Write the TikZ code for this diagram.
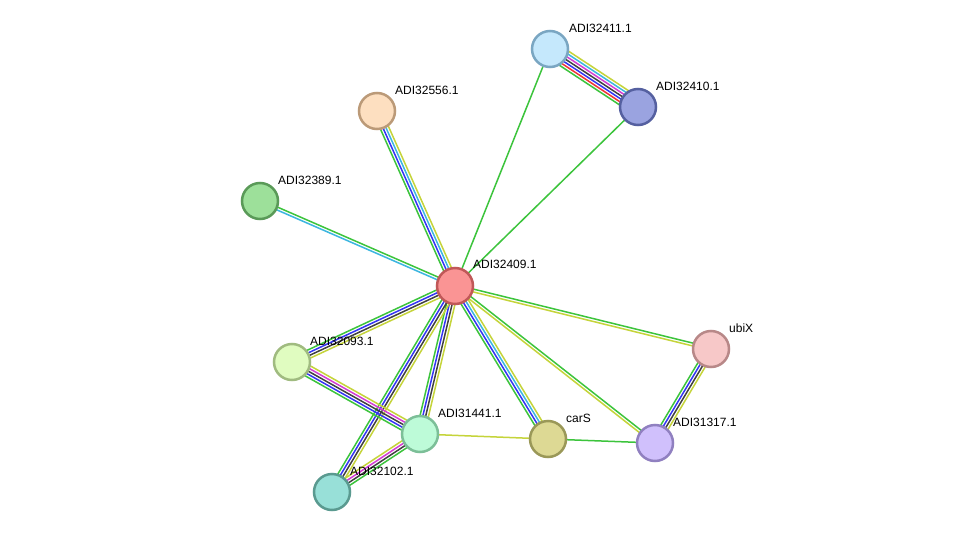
\documentclass[tikz,border=0pt]{standalone}
\usepackage{fontspec}
\setmainfont{Liberation Sans}
\usetikzlibrary{calc}
\pgfdeclarelayer{bg}
\pgfsetlayers{bg,main}
\definecolor{cgreen}{HTML}{3CC43C}
\definecolor{cyel}{HTML}{C5D43A}
\definecolor{ccyan}{HTML}{3CB6E0}
\definecolor{cblue}{HTML}{3434F4}
\definecolor{cblack}{HTML}{404040}
\definecolor{cmag}{HTML}{D43CD4}
\definecolor{cred}{HTML}{F03434}
\definecolor{f11}{RGB}{197,232,252}\definecolor{d11}{RGB}{122,166,194}
\definecolor{f10}{RGB}{154,163,224}\definecolor{d10}{RGB}{85,96,160}
\definecolor{f56}{RGB}{253,223,192}\definecolor{d56}{RGB}{187,154,120}
\definecolor{f89}{RGB}{157,224,154}\definecolor{d89}{RGB}{90,154,88}
\definecolor{f09}{RGB}{250,148,148}\definecolor{d09}{RGB}{192,88,88}
\definecolor{fub}{RGB}{247,200,200}\definecolor{dub}{RGB}{184,136,136}
\definecolor{f93}{RGB}{224,252,192}\definecolor{d93}{RGB}{160,187,128}
\definecolor{f41}{RGB}{189,251,216}\definecolor{d41}{RGB}{124,191,152}
\definecolor{fca}{RGB}{221,217,148}\definecolor{dca}{RGB}{154,152,88}
\definecolor{f17}{RGB}{208,192,252}\definecolor{d17}{RGB}{144,128,192}
\definecolor{f02}{RGB}{152,224,216}\definecolor{d02}{RGB}{90,154,144}
\tikzset{
  prot/.style={circle, minimum size=36pt, inner sep=0pt, line width=2.5pt},
  lab/.style={anchor=west, inner sep=0pt, font=\fontsize{12}{14}\selectfont},
  lnk/.style={line width=1.5pt},
}
\newcommand\medge[4]{%
  \foreach \cc [count=\ii] in {#4}{%
    \pgfmathsetmacro\oo{((#3+1)/2-\ii)*2.8}%
    \draw[lnk,\cc] ($(#1.center)!\oo pt!90:(#2.center)$) -- ($(#2.center)!\oo pt!-90:(#1.center)$);
  }}
\begin{document}
\begin{tikzpicture}[x=1pt,y=-1pt]
\useasboundingbox (0,0) rectangle (975,538);
\node[prot, fill=f11, draw=d11] (a11) at (550,49) {};
\node[prot, fill=f10, draw=d10] (a10) at (638,107) {};
\node[prot, fill=f56, draw=d56] (a56) at (377,111) {};
\node[prot, fill=f89, draw=d89] (a89) at (260,201) {};
\node[prot, fill=f09, draw=d09] (a09) at (455,286) {};
\node[prot, fill=fub, draw=dub] (ubi) at (711,349) {};
\node[prot, fill=f93, draw=d93] (a93) at (292,362) {};
\node[prot, fill=f41, draw=d41] (a41) at (420,434) {};
\node[prot, fill=fca, draw=dca] (car) at (548,439) {};
\node[prot, fill=f17, draw=d17] (a17) at (655,443) {};
\node[prot, fill=f02, draw=d02] (a02) at (332,492) {};

\node[lab] (l11) at ($(a11.center)+(19,-21)$) {ADI32411.1};
\node[lab] (l10) at ($(a10.center)+(18,-21)$) {ADI32410.1};
\node[lab] (l56) at ($(a56.center)+(18,-21)$) {ADI32556.1};
\node[lab] (l89) at ($(a89.center)+(18,-21)$) {ADI32389.1};
\node[lab] (l09) at ($(a09.center)+(18,-22)$) {ADI32409.1};
\node[lab] (lubi) at ($(ubi.center)+(18,-21)$) {ubiX};
\node[lab] (l93) at ($(a93.center)+(18,-21)$) {ADI32093.1};
\node[lab] (l41) at ($(a41.center)+(18,-21)$) {ADI31441.1};
\node[lab] (lcar) at ($(car.center)+(18,-21)$) {carS};
\node[lab] (l17) at ($(a17.center)+(18,-21)$) {ADI31317.1};
\node[lab] (l02) at ($(a02.center)+(18,-21)$) {ADI32102.1};

\begin{pgfonlayer}{bg}
\fill[white] (0,0) rectangle (975,538);
\medge{a11}{a10}{7}{cyel,ccyan,cmag,cblack,cblue,cred,cgreen}
\medge{a11}{a09}{1}{cgreen}
\medge{a10}{a09}{1}{cgreen}
\medge{a09}{a56}{4}{cgreen,cblue,ccyan,cyel}
\medge{a09}{a89}{2}{ccyan,cgreen}
\medge{a09}{ubi}{2}{cgreen,cyel}
\medge{a09}{a17}{2}{cgreen,cyel}
\medge{a09}{car}{4}{cyel,ccyan,cblue,cgreen}
\medge{a09}{a41}{4}{cyel,cblack,cblue,cgreen}
\medge{a09}{a02}{4}{cyel,cblack,cblue,cgreen}
\medge{a09}{a93}{4}{cyel,cblack,cblue,cgreen}
\medge{a93}{a41}{5}{cyel,cmag,cblack,cblue,cgreen}
\medge{a41}{a02}{4}{cgreen,cblack,cmag,cyel}
\medge{a41}{car}{1}{cyel}
\medge{car}{a17}{1}{cgreen}
\medge{ubi}{a17}{4}{cyel,cblack,cblue,cgreen}
\end{pgfonlayer}
\end{tikzpicture}
\end{document}
